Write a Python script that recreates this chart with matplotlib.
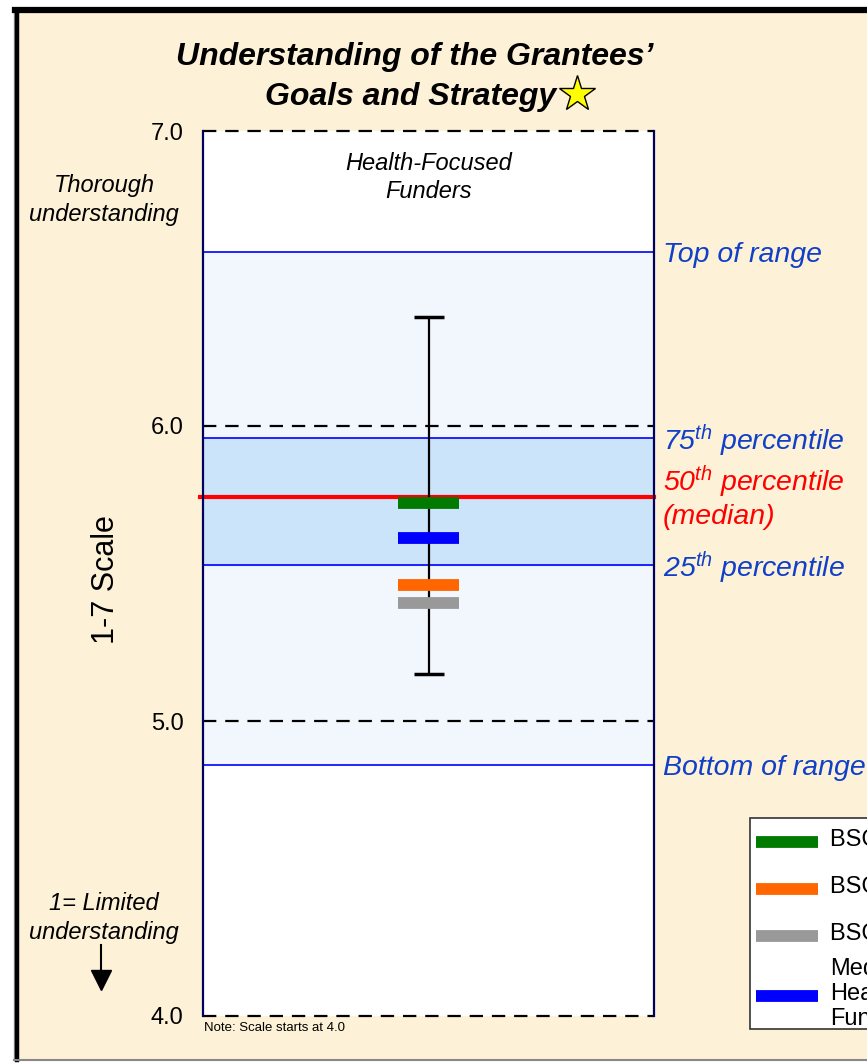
import matplotlib.pyplot as plt
from matplotlib.patches import Rectangle
from matplotlib.lines import Line2D

plt.rcParams['font.family'] = ['Liberation Sans', 'DejaVu Sans']
plt.rcParams['mathtext.fontset'] = 'custom'
plt.rcParams['mathtext.it'] = 'Liberation Sans:italic'
plt.rcParams['mathtext.rm'] = 'Liberation Sans:italic'

# range of the health-focused funders
range_top = 6.59
p75 = 5.96
median = 5.76
p25 = 5.53
range_bottom = 4.85
whisker_low = 5.16
whisker_high = 6.37

# markers shown on the chart / legend
series_names = ['BSC 2005', 'BSC 2004', 'BSC 2003', 'Median\nHealth-Focused\nFunders']
series_values = [5.74, 5.46, 5.40, 5.62]
series_colors = ['#007A00', '#FF6600', '#999999', '#0000FF']

yticks = [4.0, 5.0, 6.0, 7.0]

W, H = 867, 1063
cream = '#FDF1D7'
blue_txt = '#1040C8'


def fx(x):
    return x / W


def fy(y):
    return 1 - y / H


fig = plt.figure(figsize=(W / 100, H / 100), dpi=100)
fig.patch.set_facecolor('white')

# cream panel with thick frame
fig.add_artist(Rectangle((fx(14), fy(1060)), fx(900) - fx(14), fy(9) - fy(1060),
                         transform=fig.transFigure, facecolor=cream, edgecolor='none', zorder=0))
fig.add_artist(Line2D([fx(14), fx(14)], [fy(1060), fy(10)], color='#999999', lw=1.0, zorder=1))
fig.add_artist(Line2D([fx(17), fx(17)], [fy(1060), fy(10)], color='black', lw=3.2, zorder=1))
fig.add_artist(Line2D([fx(15), fx(900)], [fy(10), fy(10)], color='black', lw=4.5, zorder=1))
fig.add_artist(Line2D([fx(14), fx(900)], [fy(1060), fy(1060)], color='#888888', lw=1.5, zorder=1))

ax = fig.add_axes([fx(203), fy(1016), fx(654) - fx(203), fy(131) - fy(1016)])
ax.set_facecolor('white')
ax.set_xlim(0, 1)
ax.set_ylim(4, 7)

# range bands
ax.axhspan(range_bottom, range_top, color='#F2F7FE', zorder=1)
ax.axhspan(p25, p75, color='#CCE4FA', zorder=1)
for v in [range_top, p75, p25, range_bottom]:
    ax.axhline(v, color='#0000FF', lw=1.2, zorder=2)

# dashed gridlines
for v in yticks:
    ax.axhline(v, color='black', lw=1.6, ls=(0, (6, 4)), zorder=3, clip_on=False)

# median line
ax.axhline(median, xmin=-0.006, xmax=1, color='#FF0000', lw=3, zorder=4, clip_on=False)

# whisker
mid = (whisker_low + whisker_high) / 2
ax.errorbar([0.5], [mid], yerr=[[mid - whisker_low], [whisker_high - mid]],
            fmt='none', ecolor='black', elinewidth=1.6, capsize=10.5, capthick=2.5, zorder=5)

# markers
for val, col in zip(series_values, series_colors):
    ax.hlines(val, 0.433, 0.567, colors=col, lw=8.5, zorder=6)

for s in ['top', 'bottom']:
    ax.spines[s].set_visible(False)
for s in ['left', 'right']:
    ax.spines[s].set_color('#000060')
    ax.spines[s].set_linewidth(1.6)
    ax.spines[s].set_zorder(7)

ax.set_xticks([])
ax.set_yticks(yticks)
ax.set_yticklabels([f'{v:.1f}' for v in yticks], fontsize=17)
ax.tick_params(axis='y', length=0, pad=14)
ax.set_ylabel('1-7 Scale', fontsize=22, va='center')
ax.yaxis.set_label_coords(-0.215, 0.493)

ax.text(0.5, 6.93, 'Health-Focused\nFunders', ha='center', va='top', fontsize=17,
        style='italic', linespacing=1.3)

# titles
fig.text(fx(415), fy(57), 'Understanding of the Grantees\u2019', ha='center', va='center',
         fontsize=23, fontweight='bold', style='italic')
fig.text(fx(411), fy(97), 'Goals and Strategy', ha='center', va='center',
         fontsize=23, fontweight='bold', style='italic')
fig.add_artist(Line2D([fx(577)], [fy(94)], marker='*', markersize=27, markerfacecolor='#FFFF00',
                      markeredgecolor='black', markeredgewidth=1.0, ls='none'))

# left annotations
fig.text(fx(104), fy(200), 'Thorough\nunderstanding', ha='center', va='center', fontsize=17,
         style='italic', linespacing=1.35)
fig.text(fx(104), fy(918), '1= Limited\nunderstanding', ha='center', va='center', fontsize=17,
         style='italic', linespacing=1.35)
fig.add_artist(Line2D([fx(101), fx(101)], [fy(945), fy(975)], color='black', lw=1.5))
fig.add_artist(Line2D([fx(101)], [fy(980)], marker='v', markersize=15, color='black', ls='none'))

# right annotations
lab = dict(fontsize=20.5, style='italic', va='center', ha='left')
ax.text(1.02, range_top - 0.01, 'Top of range', color=blue_txt, **lab)
ax.text(1.02, p75 - 0.01, r'75$^{th}$ percentile', color=blue_txt, **lab)
ax.text(1.02, median + 0.05, r'50$^{th}$ percentile', color='#FF0000', **lab)
ax.text(1.02, median - 0.07, '(median)', color='#FF0000', **lab)
ax.text(1.02, p25 - 0.01, r'25$^{th}$ percentile', color=blue_txt, **lab)
ax.text(1.02, range_bottom - 0.01, 'Bottom of range', color=blue_txt, **lab)

fig.text(fx(204), fy(1028), 'Note: Scale starts at 4.0', fontsize=9.5, va='center', ha='left')

# legend box
fig.add_artist(Rectangle((fx(750), fy(1029)), fx(900) - fx(750), fy(818) - fy(1029),
                         transform=fig.transFigure, facecolor='white', edgecolor='#333333', lw=1.2,
                         zorder=8))
legend_y = [842, 889, 936, 996]
for name, col, ly in zip(series_names, series_colors, legend_y):
    fig.add_artist(Line2D([fx(756), fx(818)], [fy(ly), fy(ly)], color=col, lw=8.5,
                          solid_capstyle='butt', zorder=9))
    fig.text(fx(830), fy(ly - 2), name, fontsize=17, va='center', ha='left', zorder=9,
             linespacing=1.2)

fig.savefig('out.png', dpi=100, facecolor='white')
